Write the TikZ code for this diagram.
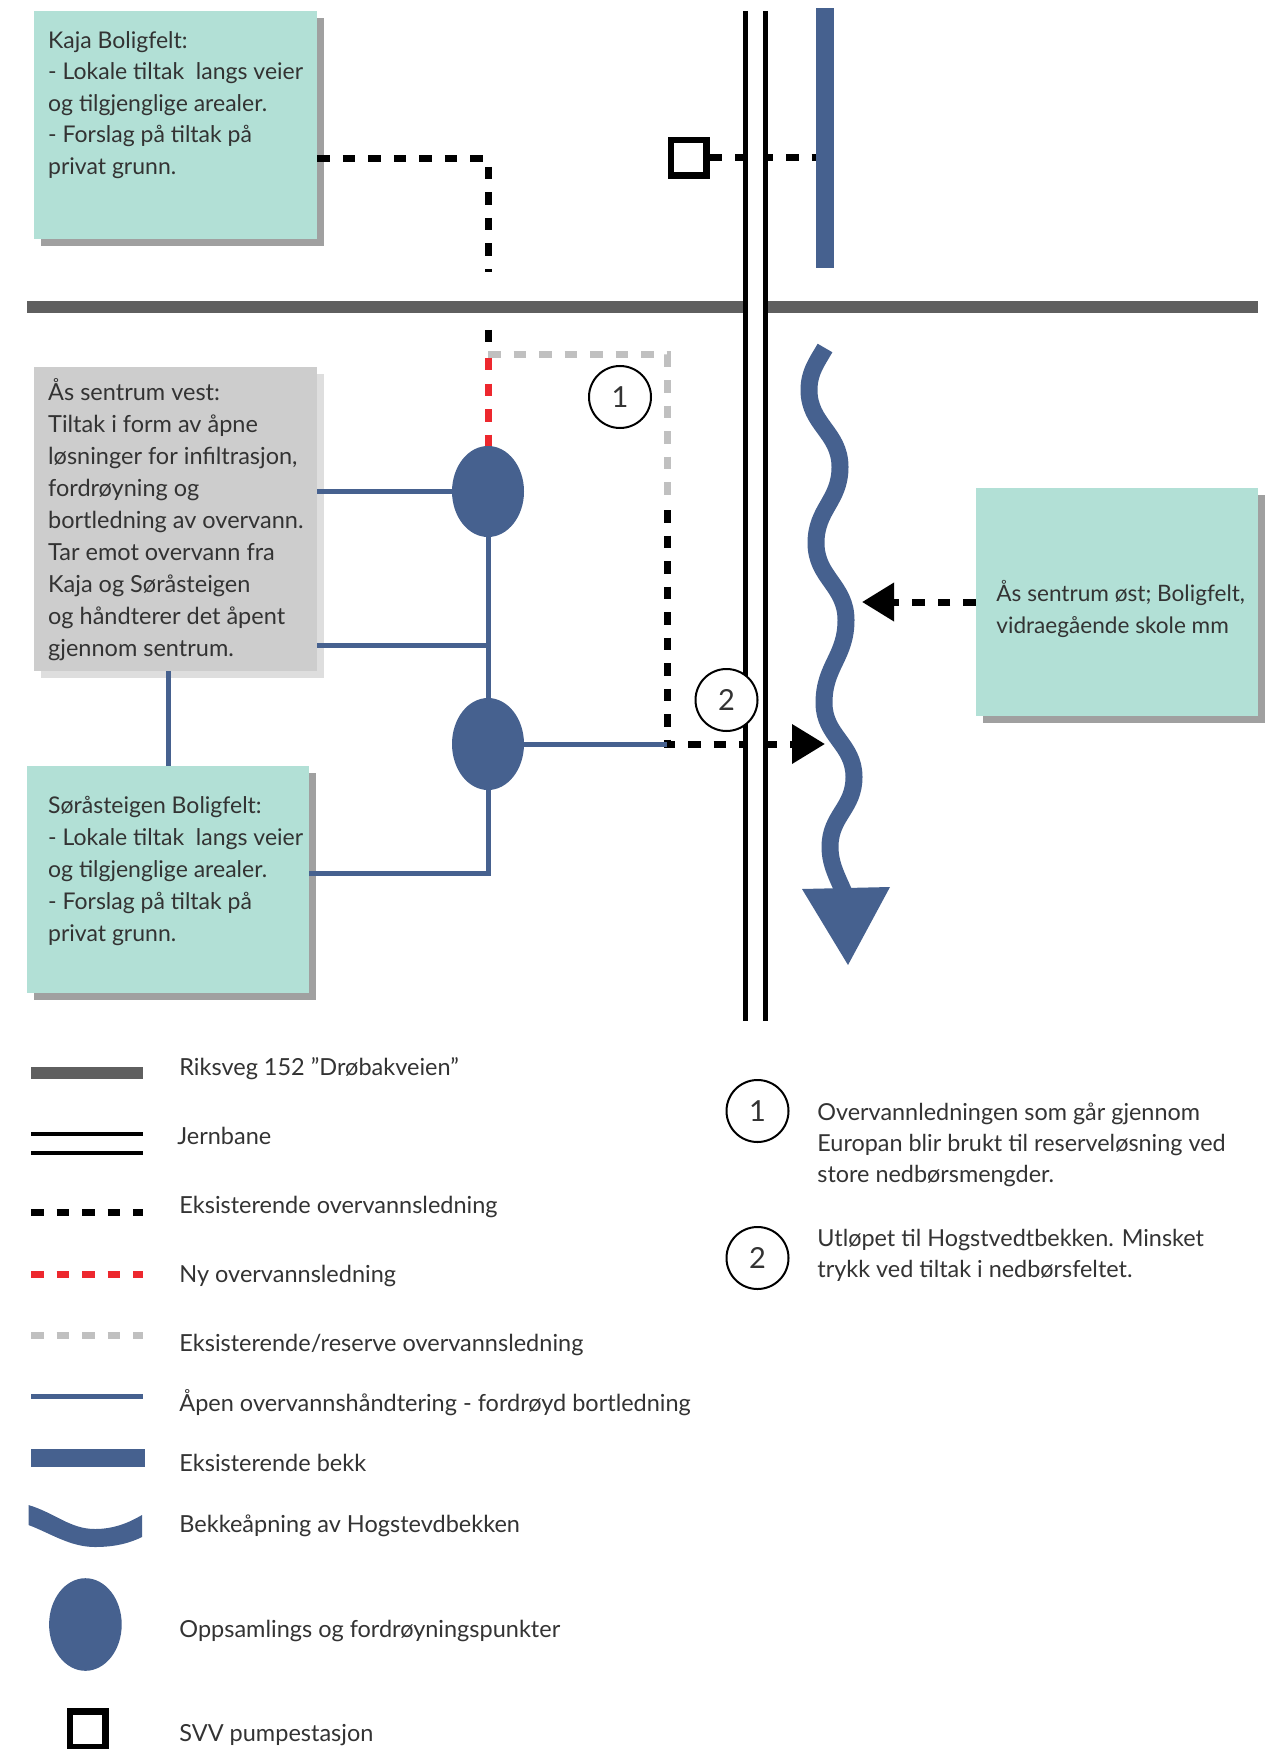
\documentclass[tikz,border=0pt]{standalone}
\usepackage{fontspec}
\setmainfont{Lato}
\usetikzlibrary{shapes.geometric,arrows.meta,shadows}
\definecolor{mint}{RGB}{178,224,214}
\definecolor{shadowgray}{RGB}{160,160,160}
\definecolor{boxgray}{RGB}{205,205,205}
\definecolor{lightshadow}{RGB}{222,222,222}
\definecolor{bekkblue}{RGB}{70,97,143}
\definecolor{roadgray}{RGB}{95,95,95}
\definecolor{newred}{RGB}{237,40,46}
\definecolor{resgray}{RGB}{192,192,192}
\definecolor{txt}{RGB}{51,51,51}
\newcommand{\bxtext}[1]{\parbox[t]{300pt}{\raggedright #1}}
\begin{document}
\begin{tikzpicture}[x=0.5pt,y=-0.5pt,
  mintbox/.style={rectangle, fill=mint, inner sep=0pt,
    drop shadow={shadow xshift=3.5pt, shadow yshift=-3.5pt, fill=shadowgray, opacity=1}},
  graybox/.style={rectangle, fill=boxgray, inner sep=0pt,
    drop shadow={shadow xshift=3.5pt, shadow yshift=-3.5pt, fill=lightshadow, opacity=1}},
  txtnode/.style={anchor=base west, inner sep=0pt, text=txt, font=\fontsize{11.75pt}{16pt}\selectfont},
  exdash/.style={line width=3.5pt, dash pattern=on 6.25pt off 6.5pt},
  newdash/.style={exdash, newred},
  resdash/.style={exdash, resgray},
  openline/.style={bekkblue, line width=2.5pt},
  rail/.style={black, line width=2.5pt},
  road/.style={roadgray, line width=6pt},
  pool/.style={ellipse, fill=bekkblue, inner sep=0pt, minimum width=36pt, minimum height=45.5pt},
  pumpbox/.style={rectangle, draw=black, line width=3.25pt, fill=white, inner sep=0pt, minimum size=17.75pt},
  numcirc/.style={circle, draw=black, line width=1pt, fill=white, inner sep=0pt, minimum size=31pt, text=txt, font=\fontsize{14.5pt}{16pt}\selectfont},
  stream/.style={bekkblue, line width=8.5pt}
]
\useasboundingbox (0,0) rectangle (1278,1749);
\fill[white] (0,0) rectangle (1278,1749);

% ---------- boxes ----------
\node[mintbox, minimum width=141.5pt, minimum height=114pt] (kaja) at (175.5,125) {};
\node[graybox, minimum width=141.5pt, minimum height=152pt] (vest) at (175.5,519) {};
\node[mintbox, minimum width=141pt, minimum height=113.5pt] (sora) at (168,879.5) {};
\node[mintbox, minimum width=141pt, minimum height=114pt] (ost) at (1117,602) {};

% ---------- road ----------
\draw[road] (27,307.5) -- (1258,307.5);

% ---------- coordinates ----------
\coordinate (kc) at (488,159);
\coordinate (kd) at (488,272);
\coordinate (ra) at (488,330);
\coordinate (rb) at (488,343);
\coordinate (rc) at (488,358);
\coordinate (g1) at (488,355);
\coordinate (g2) at (667,355);
\coordinate (g3) at (667,497);
\coordinate (b1) at (667,510);
\coordinate (b2) at (667,744);
\coordinate (tip2) at (825,744);
\coordinate (tip1) at (862,602);
\coordinate (j1) at (488,645);
\coordinate (j2) at (488,873);

% ---------- pools ----------
\node[pool] (e1) at (488,491.5) {};
\node[pool, minimum height=46pt] (e2) at (488,744) {};

% ---------- existing brook + pump ----------
\node[rectangle, fill=bekkblue, inner sep=0pt, minimum width=9pt, minimum height=130pt] (bekk) at (825,138) {};
\node[pumpbox] (pump) at (688.5,158) {};

% ---------- pipes ----------
\draw[exdash] (kaja.east |- kc) -- (kc) -- (kd);
\draw[exdash] (ra) -- (rb);
\draw[resdash] (g1) -- (g2) -- (g3);
\draw[newdash] (rc) -- (e1.north);
\draw[exdash, -{Triangle[length=16.5pt,width=19pt]}] (b1) |- (tip2);
\draw[exdash, -{Triangle[length=16pt,width=18.5pt]}] (ost.west) -- (tip1);
\draw[exdash] (pump.east) -- (pump.east -| bekk.west);

% ---------- open handling ----------
\draw[openline] (vest.east |- e1.west) -- (e1.west);
\draw[openline] (vest.east |- j1) -- (j1);
\draw[openline] (e1.south) -- (e2.north);
\draw[openline] (e2.south) -- (j2) -- (sora.east |- j2);
\draw[openline] (sora.north) -- (sora.north |- vest.south);
\draw[openline] (e2.east) -- (b2);

% ---------- railway ----------
\fill[white] (747.5,11) rectangle (762.5,1021);
\draw[rail] (745,11) -- (745,1021);
\draw[rail] (765,11) -- (765,1021);

% ---------- numbered circles ----------
\node[numcirc] (c1) at (620,397) {1};
\node[numcirc] (c2) at (726.5,700) {2};

% ---------- stream ----------
\draw[stream] (825,348) .. controls (817,362) and (809,372) .. (809,390)
  .. controls (809,424.6) and (840,432.4) .. (840,467)
  .. controls (840,501) and (816,509) .. (816,543)
  .. controls (816,577.6) and (846,585.4) .. (846,620)
  .. controls (846,657) and (824,666) .. (824,703)
  .. controls (824,736) and (854,744) .. (854,777)
  .. controls (854,808.5) and (830,815.5) .. (830,847)
  .. controls (830,865) and (838,878) .. (845,895);
\fill[bekkblue] (802,889) -- (890,887) -- (848,965) -- cycle;

% ---------- box texts ----------
\node[txtnode, font=\fontsize{11.5pt}{15.75pt}\selectfont] (kajat) at (47.8,48.3) {\bxtext{Kaja Boligfelt:\\- Lokale tiltak\ \ langs veier\\og tilgjenglige arealer.\\- Forslag på tiltak på\\privat grunn.}};
\node[txtnode, font=\fontsize{11.75pt}{16pt}\selectfont] (vestt) at (47.8,400.7) {\bxtext{Ås sentrum vest:\\Tiltak i form av åpne\\løsninger for infiltrasjon,\\fordrøyning og\\bortledning av overvann.\\Tar emot overvann fra\\Kaja og Søråsteigen\\og håndterer det åpent\\gjennom sentrum.}};
\node[txtnode, font=\fontsize{11.5pt}{16pt}\selectfont] (sorat) at (47.8,813.3) {\bxtext{Søråsteigen Boligfelt:\\- Lokale tiltak\ \ langs veier\\og tilgjenglige arealer.\\- Forslag på tiltak på\\privat grunn.}};
\node[txtnode, font=\fontsize{11.3pt}{15.85pt}\selectfont] (ostt) at (996,601.7) {\bxtext{Ås sentrum øst; Boligfelt,\\vidraegående skole mm}};

% ---------- legend ----------
\draw[road, line width=6.3pt] (31,1073) -- (143,1073);
\node[txtnode] (l1) at (179,1075) {Riksveg 152 ”Drøbakveien”};
\draw[rail, line width=2pt] (31,1134.3) -- (143,1134.3);
\draw[rail, line width=2pt] (31,1153.3) -- (143,1153.3);
\node[txtnode] (l2) at (177,1144) {Jernbane};
\draw[exdash] (31,1212) -- (143,1212);
\node[txtnode] (l3) at (179,1213.3) {Eksisterende overvannsledning};
\draw[newdash] (31,1274) -- (143,1274);
\node[txtnode] (l4) at (179,1282.7) {Ny overvannsledning};
\draw[resdash] (31,1335) -- (143,1335);
\node[txtnode] (l5) at (179,1351.7) {Eksisterende/reserve overvannsledning};
\draw[openline] (31,1396) -- (143,1396);
\node[txtnode] (l6) at (179,1411) {Åpen overvannshåndtering - fordrøyd bortledning};
\fill[bekkblue] (31,1449) rectangle (145,1467);
\node[txtnode] (l7) at (179,1471.7) {Eksisterende bekk};
\fill[bekkblue] (28.5,1505) .. controls (55,1513) and (70,1529) .. (95,1529)
  .. controls (115,1529) and (130,1522) .. (142,1515)
  -- (142,1537) .. controls (130,1543) and (115,1547) .. (95,1547)
  .. controls (70,1547) and (50,1533) .. (28.5,1525) -- cycle;
\node[txtnode] (l8) at (179,1532.7) {Bekkeåpning av Hogstevdbekken};
\node[pool, minimum width=36.3pt, minimum height=46.3pt] (lpool) at (85.4,1624.5) {};
\node[txtnode] (l9) at (179,1637) {Oppsamlings og fordrøyningspunkter};
\node[pumpbox] (lpump) at (87.5,1729) {};
\node[txtnode] (l10) at (179,1741.7) {SVV pumpestasjon};

\node[numcirc] (lc1) at (757.5,1111) {1};
\node[txtnode, font=\fontsize{11.7pt}{15.5pt}\selectfont] (r1) at (817,1120) {\bxtext{Overvannledningen som går gjennom\\Europan blir brukt til reserveløsning ved\\store nedbørsmengder.}};
\node[numcirc] (lc2) at (757.5,1258) {2};
\node[txtnode, font=\fontsize{11.7pt}{15.5pt}\selectfont] (r2) at (817,1246) {\bxtext{Utløpet til Hogstvedtbekken. Minsket\\trykk ved tiltak i nedbørsfeltet.}};
\end{tikzpicture}
\end{document}
